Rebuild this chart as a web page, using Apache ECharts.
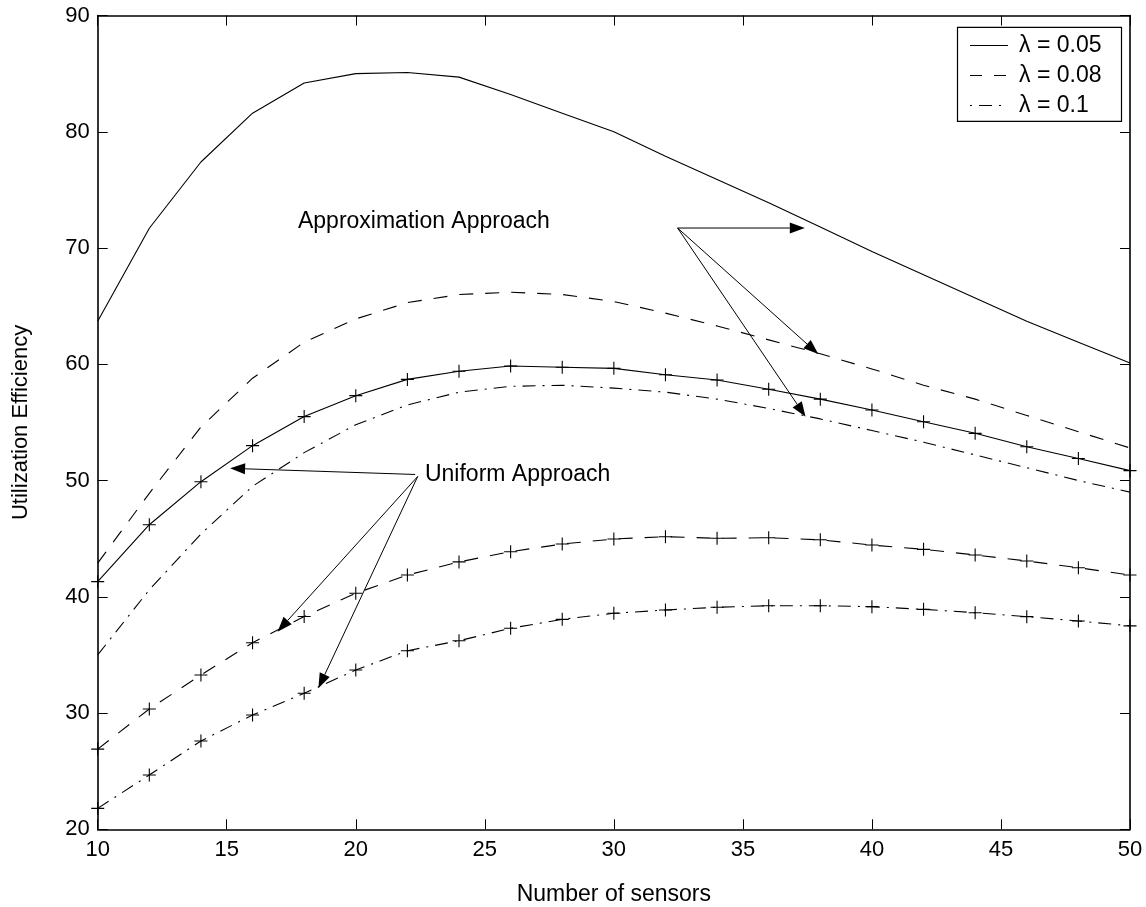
<!DOCTYPE html>
<html><head><meta charset="utf-8">
<script src="https://cdn.jsdelivr.net/npm/echarts@6/dist/echarts.min.js"></script>
<style>html,body{margin:0;padding:0;background:#fff}#c{width:1146px;height:907px}</style>
</head><body><div id="c"></div><script>
// ---- data ----
const sensors = [10,12,14,16,18,20,22,24,26,28,30,32,34,36,38,40,42,44,46,48,50];
const approx005 = [63.7,71.7,77.4,81.6,84.2,85.0,85.1,84.7,83.2,81.6,80.0,77.9,75.9,73.9,71.8,69.7,67.7,65.7,63.7,61.9,60.1];
const approx008 = [42.9,48.9,54.6,58.8,61.9,63.9,65.3,66.0,66.2,66.0,65.4,64.4,63.3,62.1,60.9,59.6,58.2,57.0,55.6,54.2,52.8];
const approx010 = [35.0,40.6,45.4,49.5,52.4,54.8,56.5,57.6,58.1,58.2,57.95,57.6,57.0,56.2,55.3,54.3,53.3,52.2,51.1,50.0,49.0];
const uniform005 = [41.3,46.2,49.9,53.0,55.5,57.3,58.7,59.4,59.85,59.75,59.65,59.1,58.65,57.85,57.0,56.07,55.06,54.06,52.9,51.9,50.85];
const uniform008 = [26.9,30.35,33.27,36.05,38.3,40.3,41.87,43.0,43.88,44.54,44.97,45.17,45.03,45.08,44.9,44.45,44.08,43.6,43.08,42.5,41.87];
const uniform010 = [21.8,24.67,27.6,29.83,31.7,33.7,35.36,36.22,37.29,38.06,38.58,38.86,39.1,39.23,39.23,39.15,38.92,38.63,38.29,37.92,37.5];
const legendNames = ['λ = 0.05','λ = 0.08','λ = 0.1'];
const xTitle = 'Number of sensors';
const yTitle = 'Utilization Efficiency';
// annotations in data coordinates
const annoTexts = [
  {text:'Approximation Approach', at:[17.76,72.24]},
  {text:'Uniform Approach', at:[22.68,50.47]}
];
const arrows = [
  {from:[32.47,71.72], to:[37.40,71.72]},
  {from:[32.47,71.72], to:[37.92,60.88]},
  {from:[32.47,71.72], to:[37.43,55.49]},
  {from:[22.30,50.52], to:[15.13,51.05]},
  {from:[22.40,50.35], to:[16.97,37.0]},
  {from:[22.40,50.35], to:[18.55,32.13]}
];

const FONT = '"Liberation Sans", Arial, Helvetica, sans-serif';
const DASH = [14,12];
const DASHDOT = [13,7,2,7];
const STYLES = ['solid', DASH, DASHDOT];
const PLUS = 'path://M6,0 L6,12 M0,6 L12,6';
const pair = arr => sensors.map((x,i)=>[x, arr[i]]);

function lineSeries(name, arr, type, marker){
  return {
    name: name, type:'line', data: pair(arr), xAxisIndex:0, yAxisIndex:0,
    symbol: marker ? PLUS : 'none', symbolSize: 13, showSymbol: !!marker,
    itemStyle: {color:'none', borderColor:'#000', borderWidth:1.1},
    lineStyle: {color:'#000', width:1.1, type:type},
    emphasis:{disabled:true}, animation:false, clip:true, z: 3
  };
}

const chart = echarts.init(document.getElementById('c'), null, {renderer:'canvas'});
const axisCommon = {
  type:'value', splitLine:{show:false},
  axisLine:{show:true, onZero:false, lineStyle:{color:'#000', width:1.6}},
  axisTick:{show:true, inside:true, length:10, lineStyle:{color:'#000', width:1}},
};
chart.setOption({
  animation:false,
  backgroundColor:'#fff',
  grid:{left:97.7, right:16, top:15.5, bottom:77.7, containLabel:false, outerBoundsMode:'none'},
  xAxis:[
    Object.assign({}, axisCommon, {min:10, max:50, interval:5, position:'bottom',
      name:xTitle, nameLocation:'middle', nameGap:54,
      nameTextStyle:{color:'#000', fontSize:23, fontFamily:FONT},
      axisLabel:{color:'#000', fontSize:22, fontFamily:FONT, margin:10}}),
    Object.assign({}, axisCommon, {min:10, max:50, interval:5, position:'top',
      axisLabel:{show:false}})
  ],
  yAxis:[
    Object.assign({}, axisCommon, {min:20, max:90, interval:10, position:'left',
      name:yTitle, nameLocation:'middle', nameGap:66,
      nameTextStyle:{color:'#000', fontSize:22, fontFamily:FONT},
      axisLabel:{color:'#000', fontSize:22, fontFamily:FONT, margin:8}}),
    Object.assign({}, axisCommon, {min:20, max:90, interval:10, position:'right',
      axisLabel:{show:false}})
  ],
  series:[
    lineSeries(legendNames[0], approx005, STYLES[0], false),
    lineSeries(legendNames[1], approx008, STYLES[1], false),
    lineSeries(legendNames[2], approx010, STYLES[2], false),
    lineSeries('Uniform 0.05', uniform005, STYLES[0], true),
    lineSeries('Uniform 0.08', uniform008, STYLES[1], true),
    lineSeries('Uniform 0.1', uniform010, STYLES[2], true)
  ]
});

// annotations (positions derived from data coordinates)
const g = [];
annoTexts.forEach(a=>{
  const p = chart.convertToPixel({gridIndex:0}, a.at);
  g.push({type:'text', x:p[0], y:p[1], z:20,
    style:{text:a.text, fill:'#000', font:'23px '+FONT, verticalAlign:'middle', align:'left'}});
});
arrows.forEach(a=>{
  const s = chart.convertToPixel({gridIndex:0}, a.from);
  const t = chart.convertToPixel({gridIndex:0}, a.to);
  const dx=t[0]-s[0], dy=t[1]-s[1], L=Math.hypot(dx,dy), ux=dx/L, uy=dy/L;
  const hl=15, hw=5.5;
  const bx=t[0]-ux*hl, by=t[1]-uy*hl;
  g.push({type:'line', z:20, shape:{x1:s[0],y1:s[1],x2:bx,y2:by}, style:{stroke:'#000', lineWidth:1}});
  g.push({type:'polygon', z:20, shape:{points:[[t[0],t[1]],[bx-uy*hw,by+ux*hw],[bx+uy*hw,by-ux*hw]]}, style:{fill:'#000'}});
});
// legend box (MATLAB style)
const LX = 957.5, LY = 27.3, LW = 164, LH = 94, ROW0 = 45.5, ROWSTEP = 30;
g.push({type:'rect', z:30, shape:{x:LX, y:LY, width:LW, height:LH},
  style:{fill:'#fff', stroke:'#000', lineWidth:1.2}});
legendNames.forEach((name,i)=>{
  const y = ROW0 + i*ROWSTEP;
  const st = STYLES[i];
  g.push({type:'line', z:31, shape:{x1:LX+12.5, y1:y, x2:LX+50.5, y2:y},
    style:{stroke:'#000', lineWidth:1.1, lineDash: st==='solid' ? null : (i===1 ? [12,12] : st),
      lineDashOffset: i===2 ? 20 : 0}});
  g.push({type:'text', z:31, x:LX+61.5, y:y,
    style:{text:name, fill:'#000', font:'23px '+FONT, verticalAlign:'middle', align:'left'}});
});
chart.setOption({graphic:g});
</script></body></html>
